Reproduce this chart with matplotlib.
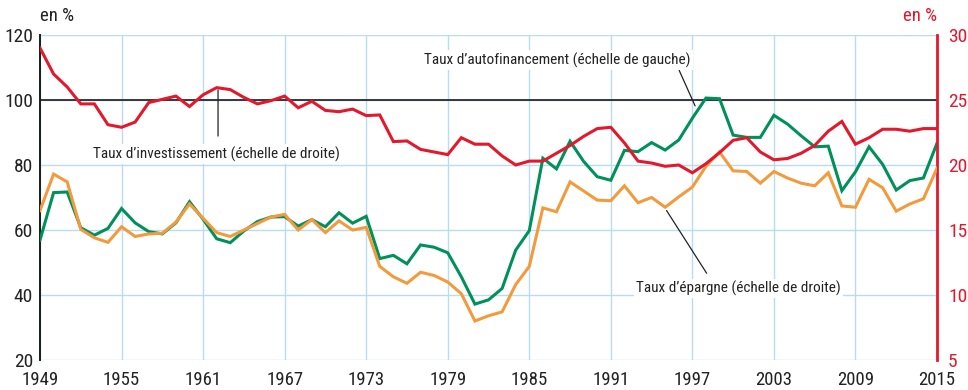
import matplotlib.pyplot as plt
import numpy as np
from matplotlib import font_manager

years = np.arange(1949, 2016)

# Taux d'autofinancement, en % (échelle de gauche)
autofinancement = [
    56.9, 71.5, 71.7, 60.7, 58.4, 60.5, 66.6, 62.2, 59.5, 58.8,
    62.2, 68.7, 63.3, 57.3, 56.1, 59.7, 62.6, 64.0, 64.1, 61.2,
    63.2, 61.0, 65.3, 62.1, 64.2, 51.2, 52.2, 49.6, 55.4, 54.7,
    53.0, 45.6, 37.2, 38.5, 42.0, 53.8, 59.8, 82.1, 78.8, 87.3,
    81.1, 76.4, 75.3, 84.5, 84.1, 86.9, 84.6, 87.7, 94.4, 100.6,
    100.4, 89.2, 88.5, 88.5, 95.3, 92.6, 89.0, 85.6, 85.8, 72.1,
    77.9, 85.6, 80.2, 72.3, 75.2, 76.0, 86.7,
]

# Taux d'investissement, en % (échelle de droite)
investissement = [
    29.0, 27.0, 26.0, 24.7, 24.7, 23.1, 22.9, 23.3, 24.8, 25.05,
    25.3, 24.5, 25.4, 25.95, 25.8, 25.2, 24.7, 24.95, 25.3, 24.4,
    24.9, 24.2, 24.1, 24.3, 23.8, 23.85, 21.8, 21.85, 21.2, 21.0,
    20.8, 22.1, 21.6, 21.6, 20.7, 20.0, 20.3, 20.3, 20.9, 21.5,
    22.2, 22.8, 22.9, 21.7, 20.3, 20.15, 19.9, 20.0, 19.4, 20.1,
    20.95, 21.9, 22.1, 21.0, 20.4, 20.5, 20.9, 21.5, 22.6, 23.35,
    21.6, 22.1, 22.75, 22.75, 22.6, 22.8, 22.8,
]

# Taux d'épargne, en % (échelle de droite)
epargne = [
    16.5, 19.3, 18.7, 15.05, 14.4, 14.05, 15.25, 14.5, 14.7, 14.75,
    15.6, 17.0, 15.9, 14.8, 14.5, 15.0, 15.5, 16.0, 16.2, 15.0,
    15.8, 14.8, 15.7, 15.0, 15.2, 12.2, 11.4, 10.9, 11.75, 11.5,
    11.0, 10.1, 8.0, 8.4, 8.7, 10.8, 12.2, 16.7, 16.4, 18.7,
    18.0, 17.3, 17.25, 18.4, 17.1, 17.5, 16.75, 17.55, 18.3, 19.9,
    21.0, 19.55, 19.5, 18.6, 19.5, 19.0, 18.6, 18.4, 19.4, 16.85,
    16.75, 18.9, 18.25, 16.45, 17.0, 17.4, 19.75,
]

year_ticks = np.arange(1949, 2016, 6)
left_ticks = [20, 40, 60, 80, 100, 120]
right_ticks = [5, 10, 15, 20, 25, 30]

GREEN = "#00915a"
RED = "#e3182d"
ORANGE = "#f39b3c"
GRID = "#b9dcf1"
INK = "#222222"

# a narrow sans if there is one, else Arial-like Liberation Sans
names = {f.name for f in font_manager.fontManager.ttflist}
family = "Liberation Sans"
for cand in ("Liberation Sans Narrow", "Roboto Condensed", "Open Sans Condensed"):
    if cand in names:
        family = cand
        break
plt.rcParams["font.family"] = [family, "DejaVu Sans"]

fig = plt.figure(figsize=(9.68, 3.9), dpi=100)
ax = fig.add_axes([40 / 968, 30 / 390, 897 / 968, 325 / 390])
ax2 = ax.twinx()

ax.set_xlim(1949, 2015)
ax.set_ylim(20, 120)
ax2.set_ylim(5, 30)

# grid
for y in year_ticks:
    ax.axvline(y, color=GRID, lw=1.0, zorder=0)
for v in left_ticks:
    ax.axhline(v, color=GRID, lw=1.0, zorder=0)
ax.axhline(100, color="#1a1a1a", lw=1.2, zorder=1)

ax.plot(years, autofinancement, color=GREEN, lw=2.2, zorder=3,
        solid_joinstyle="miter")
ax2.plot(years, epargne, color=ORANGE, lw=2.2, zorder=3, solid_joinstyle="miter")
ax2.plot(years, investissement, color=RED, lw=2.2, zorder=4, solid_joinstyle="miter")

for a in (ax, ax2):
    for s in ("top", "bottom"):
        a.spines[s].set_visible(False)
ax.spines["right"].set_visible(False)
ax2.spines["left"].set_visible(False)
ax.spines["left"].set_color("#1a1a1a")
ax.spines["left"].set_linewidth(1.4)
ax2.spines["right"].set_color(RED)
ax2.spines["right"].set_linewidth(2.0)

ax.set_xticks(year_ticks)
ax.set_xticklabels([str(y) for y in year_ticks], fontsize=13.5, color=INK)
ax.tick_params(axis="x", length=0, pad=8)
ax.set_yticks(left_ticks)
ax.set_yticklabels([str(v) for v in left_ticks], fontsize=14, color=INK)
ax.tick_params(axis="y", length=0, pad=5)
ax2.set_yticks(right_ticks)
ax2.set_yticklabels([str(v) for v in right_ticks], fontsize=14, color=RED)
ax2.tick_params(axis="y", length=0, pad=8)

fig.text(40 / 968, 1 - 16 / 390, "en %", fontsize=13.5, color=INK,
         ha="left", va="center")
fig.text(937 / 968, 1 - 16 / 390, "en %", fontsize=13.5, color=RED,
         ha="right", va="center")

# series labels with their leader lines
box = dict(facecolor="white", edgecolor="none", pad=1.5)
label_kw = dict(fontsize=11, color=INK, zorder=6, bbox=box, ha="left", va="center")
leader = dict(arrowstyle="-", color=INK, lw=0.9, shrinkA=0, shrinkB=0)

ax.text(1949 + (93 - 40) / 13.59, 83.4,
        "Taux d\u2019investissement (échelle de droite)", **label_kw)
ax.annotate("", xy=(1962.1, 103.1), xytext=(1962.1, 88.9), arrowprops=leader)

ax.text(1949 + (424 - 40) / 13.59, 112.3,
        "Taux d\u2019autofinancement (échelle de gauche)", **label_kw)
ax.annotate("", xy=(1997.2, 98.2), xytext=(1995.85, 110.8), arrowprops=leader)

ax.text(1949 + (636 - 40) / 13.59, 42.0,
        "Taux d\u2019épargne (échelle de droite)", **label_kw)
ax.annotate("", xy=(1995.1, 66.0), xytext=(1998.05, 46.7), arrowprops=leader)

fig.savefig("out.png", dpi=100)
